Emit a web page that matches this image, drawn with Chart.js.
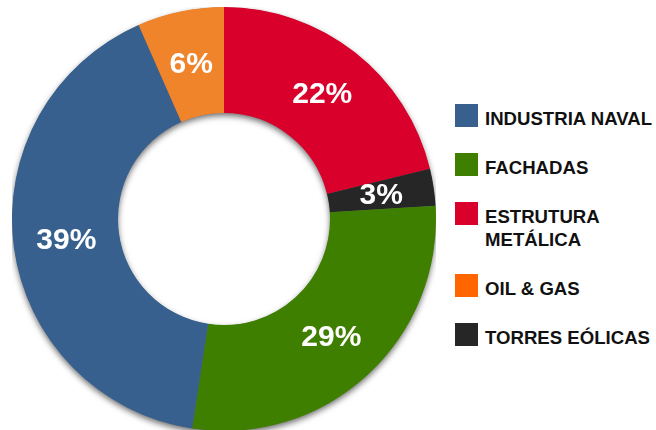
<!DOCTYPE html>
<html>
<head>
<meta charset="utf-8">
<script src="https://cdn.jsdelivr.net/npm/chart.js@4/dist/chart.umd.min.js"></script>
<style>
  html, body { margin: 0; padding: 0; background: #fff; overflow: hidden; }
  body { width: 656px; height: 430px; position: relative; font-family: "Liberation Sans", Arial, sans-serif; }
  #wrap { position: absolute; left: 12px; top: 7px; width: 424px; height: 424px; }
  #legend { position: absolute; left: 455px; top: 104px; }
  .item { display: flex; align-items: flex-start; margin-bottom: 23px; }
  .box { width: 23px; height: 23px; flex: none; }
  .txt { margin-left: 7px; padding-top: 3px; line-height: 23px; font-size: 18.6px; font-weight: bold; color: #111; white-space: pre; }
</style>
</head>
<body>
<div id="wrap"><canvas id="donut"></canvas></div>
<div id="legend"></div>
<script>
// slices, clockwise from 12 o'clock
const categories = ['ESTRUTURA\nMETÁLICA', 'TORRES EÓLICAS', 'FACHADAS', 'INDUSTRIA NAVAL', 'OIL & GAS'];
const shares = [21.2, 2.8, 28.4, 41.0, 6.6];
const shareLabels = ['22%', '3%', '29%', '39%', '6%'];
const sliceColors = ['#D9002B', '#262626', '#3F7F00', '#37608F', '#F0842B'];

// legend
const legendOrder = ['INDUSTRIA NAVAL', 'FACHADAS', 'ESTRUTURA\nMETÁLICA', 'OIL & GAS', 'TORRES EÓLICAS'];
const legendColors = ['#37608F', '#3F7F00', '#D9002B', '#FF6600', '#262626'];

const legend = document.getElementById('legend');
legendOrder.forEach((name, i) => {
  const row = document.createElement('div');
  row.className = 'item';
  row.innerHTML = '<div class="box" style="background:' + legendColors[i] + '"></div><div class="txt"></div>';
  row.querySelector('.txt').textContent = name;
  legend.appendChild(row);
});

// soft drop shadow under the ring
const ringShadow = {
  id: 'ringShadow',
  beforeDatasetsDraw(chart) {
    const arc = chart.getDatasetMeta(0).data[0];
    if (!arc) return;
    const { x, y, innerRadius, outerRadius } = arc.getProps(['x', 'y', 'innerRadius', 'outerRadius'], true);
    const ctx = chart.ctx;
    ctx.save();
    ctx.shadowColor = 'rgba(0,0,0,0.6)';
    ctx.shadowBlur = 6;
    ctx.shadowOffsetY = 3;
    ctx.fillStyle = '#666';
    ctx.beginPath();
    ctx.arc(x, y, outerRadius - 0.5, 0, Math.PI * 2);
    ctx.arc(x, y, innerRadius + 0.5, Math.PI * 2, 0, true);
    ctx.fill();
    ctx.restore();
  }
};

// percent labels in the middle of each slice
const sliceLabels = {
  id: 'sliceLabels',
  afterDatasetsDraw(chart) {
    const ctx = chart.ctx;
    ctx.save();
    ctx.fillStyle = '#fff';
    ctx.font = 'bold 30px "Liberation Sans", Arial, sans-serif';
    ctx.textAlign = 'center';
    ctx.textBaseline = 'middle';
    chart.getDatasetMeta(0).data.forEach((arc, i) => {
      const p = arc.tooltipPosition(true);
      ctx.fillText(shareLabels[i], p.x, p.y + 1);
    });
    ctx.restore();
  }
};

new Chart(document.getElementById('donut'), {
  type: 'doughnut',
  data: {
    labels: categories,
    datasets: [{
      data: shares,
      backgroundColor: sliceColors,
      borderWidth: 0
    }]
  },
  options: {
    responsive: true,
    maintainAspectRatio: false,
    animation: false,
    cutout: '50%',
    layout: { padding: 0 },
    plugins: {
      legend: { display: false },
      tooltip: { enabled: false }
    }
  },
  plugins: [ringShadow, sliceLabels]
});
</script>
</body>
</html>
